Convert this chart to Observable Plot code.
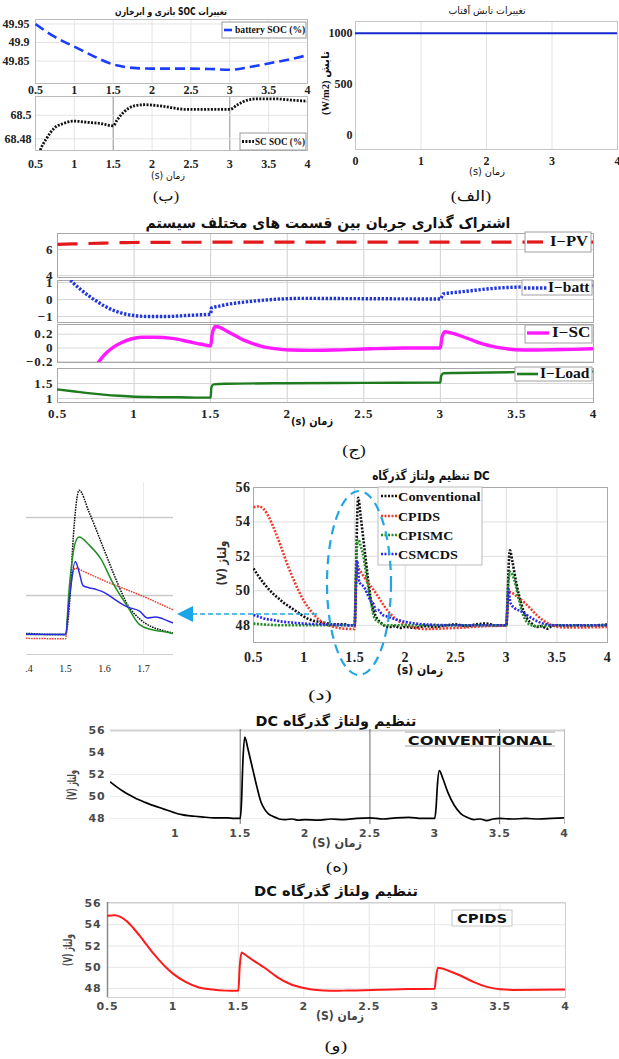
<!DOCTYPE html>
<html><head><meta charset="utf-8">
<script src="https://cdn.jsdelivr.net/npm/d3@7"></script>
<script src="https://cdn.jsdelivr.net/npm/@observablehq/plot@0.6"></script>
<style>
html,body{margin:0;padding:0;background:#fff;}
#root{position:relative;width:619px;height:1059px;overflow:hidden;background:#fff;}
</style></head>
<body><div id="root"></div>
<script>
// ---------------- DATA ----------------
// (الف) solar irradiance
const tIrr = [0, 4];
const irr = [1000, 1000];
const irrXTicks = [0, 1, 2, 3, 4];
const irrYTicks = [0, 500, 1000];

// (ب) SOC of battery and supercapacitor
const tSocBatt = [0.5, 0.75, 1.0, 1.25, 1.5, 1.75, 2.0, 2.25, 2.5, 2.75, 3.0, 3.25, 3.5, 3.75, 4.0];
const socBatt = [49.950, 49.915, 49.889, 49.863, 49.841, 49.832, 49.830, 49.830, 49.830, 49.829, 49.827, 49.834, 49.844, 49.854, 49.866];
const tSocSc = [0.52, 0.56, 0.65, 0.74, 0.86, 0.99, 1.17, 1.34, 1.5, 1.55, 1.64, 1.77, 1.9, 2.1, 2.45, 2.84, 3.0, 3.1, 3.23, 3.36, 3.57, 3.79, 4.0];
const socSc = [68.462, 68.470, 68.481, 68.489, 68.493, 68.495, 68.494, 68.493, 68.491, 68.496, 68.503, 68.508, 68.509, 68.508, 68.505, 68.505, 68.505, 68.509, 68.513, 68.514, 68.514, 68.513, 68.512];
const socXTicks = [0.5, 1, 1.5, 2, 2.5, 3, 3.5, 4];
const socBattTicks = [49.85, 49.9, 49.95];
const socScTicks = [68.48, 68.5];

// (ج) current sharing
const tPv = [0.5, 0.6, 0.7, 0.8, 0.9, 1.0, 1.5, 2.0, 2.5, 3.0, 3.5, 4.0];
const iPv = [6.40, 6.43, 6.46, 6.49, 6.52, 6.54, 6.56, 6.56, 6.56, 6.56, 6.56, 6.56];
const tBatt = [0.55, 0.6, 0.65, 0.71, 0.76, 0.81, 0.87, 0.92, 1.0, 1.1, 1.2, 1.3, 1.4, 1.5, 1.505, 1.55, 1.6, 1.75, 1.9, 2.0, 2.1, 2.3, 2.5, 2.75, 3.0, 3.02, 3.1, 3.2, 3.3, 3.4, 3.5, 3.6, 3.8, 4.0];
const iBatt = [1.5, 1.0, 0.6, 0.18, -0.12, -0.4, -0.65, -0.8, -0.94, -1.0, -1.0, -0.96, -0.91, -0.86, -0.5, -0.4, -0.3, -0.12, 0.0, 0.05, 0.07, 0.06, 0.05, 0.04, 0.03, 0.33, 0.42, 0.52, 0.62, 0.69, 0.73, 0.76, 0.8, 0.82];
const tSc = [0.72, 0.77, 0.82, 0.87, 0.92, 0.98, 1.05, 1.13, 1.25, 1.36, 1.45, 1.5, 1.51, 1.53, 1.56, 1.6, 1.66, 1.72, 1.78, 1.84, 1.92, 2.02, 2.15, 2.3, 2.55, 2.78, 3.0, 3.01, 3.03, 3.07, 3.14, 3.2, 3.26, 3.32, 3.37, 3.43, 3.49, 3.6, 3.73, 3.86, 4.0];
const iSc = [-0.4, -0.2, -0.07, 0.02, 0.08, 0.13, 0.155, 0.155, 0.14, 0.09, 0.05, 0.03, 0.2, 0.31, 0.3, 0.25, 0.18, 0.11, 0.06, 0.02, -0.01, -0.03, -0.035, -0.03, -0.01, 0.0, 0.0, 0.15, 0.235, 0.22, 0.17, 0.12, 0.07, 0.035, 0.01, -0.01, -0.025, -0.03, -0.025, -0.02, -0.01];
const tLoad = [0.5, 0.6, 0.7, 0.8, 0.9, 1.0, 1.1, 1.2, 1.3, 1.4, 1.5, 1.505, 1.52, 1.6, 2.0, 2.5, 3.0, 3.005, 3.02, 3.1, 3.5, 4.0];
const iLoad = [1.3, 1.24, 1.18, 1.13, 1.09, 1.06, 1.05, 1.04, 1.04, 1.03, 1.03, 1.38, 1.47, 1.49, 1.51, 1.52, 1.53, 1.75, 1.84, 1.85, 1.88, 1.9];
const curXTicks = [0.5, 1, 1.5, 2, 2.5, 3, 3.5, 4];
const pvTicks = [4, 6];
const battTicks = [-1, 0, 1];
const scTicks = [-0.2, 0, 0.2];
const loadTicks = [1, 1.5];
const curLabels = ["I\u2212PV", "I\u2212batt", "I\u2212SC", "I\u2212Load"];

// (د)(ه)(و) DC bus voltage
const tConv = [0.5,0.55,0.6,0.65,0.7,0.75,0.8,0.85,0.9,0.95,1.0,1.05,1.1,1.15,1.2,1.3,1.4,1.45,1.5,1.51,1.52,1.535,1.56,1.6,1.63,1.66,1.69,1.72,1.75,1.78,1.8,1.85,1.9,1.95,2.0,2.1,2.2,2.3,2.4,2.5,2.6,2.7,2.8,2.9,3.0,3.01,3.02,3.035,3.06,3.1,3.15,3.2,3.25,3.3,3.35,3.4,3.45,3.5,3.6,3.7,3.8,3.9,4.0];
const vConv = [51.3,50.85,50.45,50.1,49.8,49.55,49.3,49.1,48.9,48.7,48.5,48.35,48.25,48.2,48.15,48.05,48.05,48.0,48.0,49.5,53.0,55.4,54.3,52.3,50.8,49.5,48.8,48.4,48.2,48.05,47.95,47.9,47.95,47.85,47.9,47.85,47.95,47.9,48.0,48.05,47.95,48.05,48.1,48.0,48.0,49.0,51.0,52.35,51.7,50.4,49.2,48.45,48.1,47.9,47.95,47.8,47.95,48.0,47.95,48.0,47.95,48.0,48.05];
const tPid = [0.5,0.55,0.6,0.65,0.7,0.75,0.8,0.85,0.9,0.95,1.0,1.1,1.2,1.3,1.4,1.5,1.51,1.525,1.55,1.6,1.65,1.7,1.75,1.8,1.9,2.0,2.1,2.2,2.3,2.4,2.6,2.8,3.0,3.01,3.025,3.05,3.1,3.2,3.3,3.4,3.5,3.6,3.8,4.0];
const vPid = [54.85,54.9,54.75,54.3,53.65,52.9,52.1,51.3,50.6,49.95,49.4,48.6,48.1,47.9,47.8,47.78,50.0,51.4,51.2,50.75,50.35,49.95,49.5,49.05,48.4,48.05,47.85,47.78,47.8,47.82,47.88,47.95,47.98,49.0,49.95,49.9,49.7,49.2,48.6,48.15,47.92,47.87,47.88,47.9];
const tSmc = [0.5,0.6,0.8,1.0,1.2,1.5,1.51,1.525,1.535,1.56,1.59,1.62,1.66,1.69,1.72,1.75,1.775,1.8,2.0,2.5,3.0,3.01,3.025,3.04,3.08,3.12,3.16,3.2,3.25,3.3,3.5,4.0];
const vSmc = [48.1,48.05,48.0,48.0,48.0,48.0,50.5,52.7,53.0,52.6,51.9,50.7,49.4,48.5,48.25,48.15,48.05,48.0,48.0,48.0,48.0,49.5,50.8,51.1,50.6,49.6,48.7,48.2,48.0,47.95,48.0,48.0];
const tSmd = [0.5,0.55,0.6,0.7,0.8,0.9,1.0,1.2,1.5,1.51,1.525,1.535,1.545,1.56,1.58,1.6,1.63,1.66,1.69,1.71,1.73,1.75,1.775,1.8,1.9,2.0,2.1,2.2,2.5,3.0,3.01,3.02,3.04,3.08,3.15,3.2,3.3,3.4,3.5,4.0];
const vSmd = [48.6,48.5,48.4,48.3,48.2,48.15,48.1,48.05,48.0,49.8,51.75,51.2,50.5,50.4,50.3,50.15,49.75,49.4,49.2,48.85,48.9,48.8,48.6,48.55,48.35,48.2,48.1,48.05,48.0,48.0,49.0,50.1,49.3,49.0,48.8,48.6,48.25,48.05,48.0,48.0];
const dcXTicks = [0.5, 1, 1.5, 2, 2.5, 3, 3.5, 4];
const dcYTicks = [48, 50, 52, 54, 56];
const insetXTicks = [1.4, 1.5, 1.6, 1.7];
const convXTicks = [1, 1.5, 2, 2.5, 3, 3.5, 4];
const dcLabels = ["Conventional", "CPIDS", "CPISMC", "CSMCDS"];

// ---------------- HELPERS ----------------
const root = document.getElementById("root");
const SERIF = '"Liberation Serif", "DejaVu Sans", serif';
const SANS = '"DejaVu Sans", sans-serif';
const rows = (ts, vs) => ts.map((t, i) => ({t, v: vs[i]}));
const fmt = d => String(d).replace("-", "\u2212");

// frame = [x0,x1,y0,y1] in page px; m = [top,right,bottom,left] margins; clip = {l, b} optional page-px clip edges
function mk(frame, m, opts, clip) {
  const [x0, x1, y0, y1] = frame;
  const [mt, mr, mb, ml] = m;
  const width = ml + (x1 - x0) + mr, height = mt + (y1 - y0) + mb;
  const svg = Plot.plot({
    width, height, marginTop: mt, marginRight: mr, marginBottom: mb, marginLeft: ml,
    ...opts,
    style: {background: "transparent", overflow: "visible", ...(opts.style || {})}
  });
  const sl = x0 - ml, st = y0 - mt;
  const d = document.createElement("div");
  d.style.position = "absolute";
  if (clip) {
    const wl = clip.l != null ? clip.l : sl;
    const wb = clip.b != null ? clip.b : st + height;
    d.style.left = wl + "px"; d.style.top = st + "px";
    d.style.width = (sl + width - wl + 20) + "px"; d.style.height = (wb - st) + "px";
    d.style.overflow = "hidden";
    svg.style.position = "absolute"; svg.style.left = (sl - wl) + "px"; svg.style.top = "0px";
    svg.style.maxWidth = "none";
  } else {
    d.style.left = sl + "px"; d.style.top = st + "px"; d.style.width = width + "px";
  }
  d.appendChild(svg);
  root.appendChild(d);
  return svg;
}

function txt(s, cx, cy, o = {}) {
  const d = document.createElement("div");
  d.textContent = s;
  d.dir = o.dir || "ltr";
  d.style.cssText = `position:absolute;left:${cx}px;top:${cy}px;white-space:nowrap;line-height:1;` +
    `font-family:${o.family || SERIF};font-size:${o.size || 12}px;font-weight:${o.weight || "bold"};` +
    `color:${o.color || "#111"};letter-spacing:${o.ls || 0}px;`;
  root.appendChild(d);
  let sx = 1;
  if (o.w) { const w = d.offsetWidth; if (w > 0) sx = o.w / w; }
  const start = o.anchor === "start";
  d.style.transformOrigin = start ? "0 50%" : "50% 50%";
  d.style.transform = `translate(${start ? "0" : "-50%"},-50%)` + (o.rot ? ` rotate(${o.rot}deg)` : "") + ` scaleX(${sx})`;
  return d;
}

// dashed/dotted line helper (butt caps so the gaps stay visible)
const dashed = (data, stroke, w, dash, curve = "monotone-x") =>
  Plot.line(data, {x: "t", y: "v", stroke, strokeWidth: w, strokeDasharray: dash, strokeLinecap: dash ? "butt" : "round", strokeLinejoin: "round", curve, clip: true});

// ---------------- (الف) irradiance ----------------
mk([355, 617, 21, 149], [4, 2, 20, 40], {
  x: {domain: [0, 4], ticks: irrXTicks, tickFormat: fmt, tickSize: 0, tickPadding: 6.5, label: null},
  y: {domain: [-137, 1115], ticks: irrYTicks, tickFormat: fmt, tickSize: 0, tickPadding: 3, label: null},
  style: {fontFamily: SERIF, fontSize: "12px", fontWeight: "bold", color: "#222"},
  marks: [
    Plot.ruleX(irrXTicks, {stroke: "#e2e2e2"}),
    Plot.frame({stroke: "#c4c4c4"}),
    dashed(rows(tIrr, irr), "#1428d0", 2.2, null, "linear")
  ]
});

// ---------------- (ب) SOC ----------------
mk([35, 307, 19, 83], [2, 4, 16, 35], {
  x: {domain: [0.5, 4], ticks: socXTicks, tickFormat: fmt, tickSize: 0, tickPadding: 1.5, label: null},
  y: {domain: [49.79, 49.962], ticks: socBattTicks, tickFormat: fmt, tickSize: 0, tickPadding: 6, label: null},
  style: {fontFamily: SERIF, fontSize: "12px", fontWeight: "bold", color: "#222"},
  marks: [
    Plot.ruleX(socXTicks, {stroke: "#e4e4e4"}),
    Plot.ruleY(socBattTicks, {stroke: "#e4e4e4"}),
    Plot.frame({stroke: "#bbb"}),
    dashed(rows(tSocBatt, socBatt), "#1a3cff", 2.6, "10,5")
  ]
});
mk([35, 307, 96, 150], [2, 4, 20, 35], {
  x: {domain: [0.5, 4], ticks: socXTicks, tickFormat: fmt, tickSize: 0, tickPadding: 8.5, label: null},
  y: {domain: [68.470, 68.516], ticks: socScTicks, tickFormat: fmt, tickSize: 0, tickPadding: 4, label: null},
  style: {fontFamily: SERIF, fontSize: "12px", fontWeight: "bold", color: "#222"},
  marks: [
    Plot.ruleX(socXTicks, {stroke: "#e4e4e4"}),
    Plot.ruleX([1.5, 3], {stroke: "#9a9a9a"}),
    Plot.ruleY(socScTicks, {stroke: "#e4e4e4"}),
    Plot.frame({stroke: "#bbb"}),
    dashed(rows(tSocSc, socSc), "#111", 2.8, "2,1.4")
  ]
});

// ---------------- (ج) current sharing ----------------
const curPanels = [
  {y: [233, 277], domain: [3.85, 7.23], ticks: pvTicks, data: rows(tPv, iPv), stroke: "#e31a1c", w: 3.2, dash: "20,11", clipB: 279},
  {y: [280, 322], domain: [-1.35, 1.12], ticks: battTicks, data: rows(tBatt, iBatt), stroke: "#2338d8", w: 3.4, dash: "2.4,1.6"},
  {y: [324, 362], domain: [-0.21, 0.34], ticks: scTicks, data: rows(tSc, iSc), stroke: "#ff1aff", w: 3.4, dash: null},
  {y: [368, 402], domain: [0.867, 2.0], ticks: loadTicks, data: rows(tLoad, iLoad), stroke: "#1e7b1e", w: 2.4, dash: null}
];
curPanels.forEach((p, i) => {
  const last = i === curPanels.length - 1;
  mk([57, 593, p.y[0], p.y[1]], [2, 4, last ? 26 : 6, 45], {
    x: last
      ? {domain: [0.5, 4], ticks: curXTicks, tickFormat: fmt, tickSize: 0, tickPadding: 6.5, label: null}
      : {domain: [0.5, 4], axis: null},
    y: {domain: p.domain, ticks: p.ticks, tickFormat: fmt, tickSize: 0, tickPadding: 4, label: null},
    style: {fontFamily: SERIF, fontSize: "13px", fontWeight: "bold", color: "#222", letterSpacing: "1px"},
    marks: [
      Plot.ruleX(curXTicks, {stroke: "#cfcfcf"}),
      Plot.ruleY(p.ticks, {stroke: "#d6d6d6"}),
      Plot.frame({stroke: "#a8a8a8"}),
      dashed(p.data, p.stroke, p.w, p.dash)
    ]
  }, p.clipB ? {b: p.clipB} : null);
});

// ---------------- (د) DC bus voltage, comparison ----------------
const dcSeries = [
  {data: rows(tConv, vConv), stroke: "#111111"},
  {data: rows(tPid, vPid), stroke: "#f03a2e"},
  {data: rows(tSmc, vSmc), stroke: "#1f8f26"},
  {data: rows(tSmd, vSmd), stroke: "#2a2ae8"}
];
mk([253, 607, 487, 642], [4, 4, 24, 40], {
  x: {domain: [0.5, 4], ticks: dcXTicks, tickFormat: fmt, tickSize: 0, tickPadding: 9.5, label: null},
  y: {domain: [47, 56], ticks: dcYTicks, tickFormat: fmt, tickSize: 0, tickPadding: 3, label: null},
  style: {fontFamily: SERIF, fontSize: "14px", fontWeight: "bold", color: "#222", letterSpacing: "0.5px"},
  marks: [
    Plot.ruleX(dcXTicks, {stroke: "#dedede"}),
    Plot.ruleY(dcYTicks, {stroke: "#dedede"}),
    Plot.frame({stroke: "#aaa"}),
    ...dcSeries.map(s => dashed(s.data, s.stroke, 2.6, "2,1.5"))
  ]
});

// inset zoom
mk([26, 173, 482, 654], [2, 2, 20, 12], {
  x: {domain: [1.4, 1.777], ticks: insetXTicks, tickFormat: fmt, tickSize: 0, tickPadding: 10.5, label: null},
  y: {domain: [46.97, 55.8], axis: null},
  style: {fontFamily: SERIF, fontSize: "10px", fontWeight: "normal", color: "#222"},
  marks: [
    Plot.ruleX([1.7], {stroke: "#ececec"}),
    Plot.ruleY([50, 54], {stroke: "#c9c9c9", strokeWidth: 1.6}),
    Plot.ruleY([46.97], {stroke: "#cfcfcf", strokeWidth: 1.2}),
    ...dcSeries.map((s, i) => dashed(s.data, s.stroke, 1.5, i < 2 ? "1.6,1" : null))
  ]
}, {l: 25});

// ---------------- (ه) Conventional ----------------
mk([110, 564, 729, 824], [2, 4, 20, 40], {
  x: {domain: [0.5, 4], ticks: convXTicks, tickFormat: fmt, tickSize: 0, tickPadding: 5, label: null},
  y: {domain: [47.45, 56.09], ticks: dcYTicks, tickFormat: fmt, tickSize: 0, tickPadding: 5, label: null},
  style: {fontFamily: SANS, fontSize: "11px", fontWeight: "bold", color: "#4a4a4a", letterSpacing: "0.8px"},
  marks: [
    Plot.ruleY([48, 50, 52], {stroke: "#ebebeb"}),
    Plot.ruleY([56], {stroke: "#d2d2d2", strokeWidth: 2}),
    Plot.ruleX([4], {stroke: "#bdbdbd"}),
    Plot.ruleX([1.5, 2.5, 3.5], {stroke: "#444", strokeWidth: 0.8}),
    dashed(rows(tConv, vConv), "#000", 1.7, null)
  ]
});

// ---------------- (و) CPIDS ----------------
mk([107, 565, 902, 997], [2, 4, 20, 40], {
  x: {domain: [0.5, 4], ticks: dcXTicks, tickFormat: fmt, tickSize: 0, tickPadding: 5, label: null},
  y: {domain: [47.153, 56.094], ticks: dcYTicks, tickFormat: fmt, tickSize: 0, tickPadding: 6, label: null},
  style: {fontFamily: SANS, fontSize: "11px", fontWeight: "bold", color: "#4a4a4a", letterSpacing: "0.8px"},
  marks: [
    Plot.ruleX(dcXTicks, {stroke: "#e6e6e6"}),
    Plot.ruleY(dcYTicks, {stroke: "#e6e6e6"}),
    Plot.frame({stroke: "#cfcfcf"}),
    Plot.ruleX([0.5], {stroke: "#8a8a8a", strokeWidth: 1.5}),
    dashed(rows(tPid, vPid), "#ff1a1a", 2, null)
  ]
});

// ---------------- OVERLAY SHAPES ----------------
const ov = d3.select(root).append("svg")
  .attr("width", 619).attr("height", 1059)
  .style("position", "absolute").style("left", "0").style("top", "0");
function box(x0, y0, x1, y1, stroke = "#999", fill = "#fff") {
  ov.append("rect").attr("x", x0).attr("y", y0).attr("width", x1 - x0).attr("height", y1 - y0)
    .attr("fill", fill).attr("stroke", stroke).attr("stroke-width", 1);
}
function seg(x0, x1, y, stroke, w, dash) {
  ov.append("line").attr("x1", x0).attr("x2", x1).attr("y1", y).attr("y2", y)
    .attr("stroke", stroke).attr("stroke-width", w).attr("stroke-dasharray", dash || null);
}
// (ب) legends
box(222, 22, 306, 38, "#999");
seg(224, 234, 30, "#1a3cff", 2.6, "8,4");
box(240, 133, 306, 150, "#999");
seg(242, 254, 141.5, "#111", 2.8, "2,1.4");
// (ج) legends
box(525, 232, 591, 252, "#a0a0a0"); seg(527, 543, 242, "#e31a1c", 3.2, null);
box(522, 280, 592, 295, "#a0a0a0"); seg(524, 547, 288, "#2338d8", 3.4, "2.4,1.6");
box(525, 325, 592, 343, "#a0a0a0"); seg(527, 549, 333, "#ff1aff", 3.4, null);
box(515, 367, 592, 381, "#a0a0a0"); seg(517, 538, 374, "#1e7b1e", 2.6, null);
// (د) legend
box(378, 487, 482, 565, "#bbb");
[496, 516, 535, 554].forEach((y, i) => seg(381, 397, y, dcSeries[i].stroke, 2.6, "2,1.5"));
// ellipse + arrow
ov.append("ellipse").attr("cx", 359).attr("cy", 583).attr("rx", 32).attr("ry", 92)
  .attr("fill", "none").attr("stroke", "#22a6e3").attr("stroke-width", 2.2).attr("stroke-dasharray", "9,6");
seg(192, 320, 614, "#22a6e3", 1.5, "5,3");
ov.append("polygon").attr("points", "177,614 193,606 193,622").attr("fill", "#19a5e6");
// (ه) CONVENTIONAL label lines
seg(405, 555, 732, "#cfcfcf", 2, null);
seg(405, 555, 746, "#cfcfcf", 2, null);
// (و) CPIDS box
box(452, 910, 512, 926, "#c8c8c8");

// ---------------- TEXT ----------------
// titles
txt("تغییرات SOC باتری و ابرخازن", 171, 12, {family: SANS, size: 10, dir: "rtl", w: 112});
txt("تغییرات تابش آفتاب", 487, 11, {family: SANS, size: 10, weight: "normal", dir: "rtl", w: 77});
txt("اشتراک گذاری جریان بین قسمت های مختلف سیستم", 328, 223, {family: SANS, size: 15, dir: "rtl", w: 365});
txt("تنظیم ولتاژ گذرگاه DC", 431, 475, {family: SANS, size: 13, dir: "ltr", w: 118});
txt("تنظیم ولتاژ گذرگاه DC", 336, 721, {family: SANS, size: 14, dir: "rtl", w: 161});
txt("تنظیم ولتاژ گذرگاه DC", 336, 891, {family: SANS, size: 14, dir: "rtl", w: 164});
// axis labels
txt("(s) زمان", 487, 172, {family: SANS, size: 10, weight: "normal", w: 36});
txt("(s) زمان", 168, 176, {family: SANS, size: 10, weight: "normal", w: 34});
txt("(s) زمان", 312, 421, {family: SANS, size: 11, w: 42});
txt("(s) زمان", 420, 670, {family: SANS, size: 12, w: 46});
txt("(S) زمان", 337, 843, {family: SANS, size: 12, color: "#444", w: 50});
txt("(S) زمان", 340, 1016, {family: SANS, size: 12, color: "#444", w: 48});
txt("(W/m2) تابش", 325, 83, {family: SERIF, size: 11, rot: -90, w: 64});
txt("(V) ولتاژ", 222, 563, {family: SANS, size: 12, rot: -90, color: "#333", w: 45});
txt("(V) ولتاژ", 72, 785, {family: SANS, size: 12, rot: -90, color: "#444", w: 30});
txt("(V) ولتاژ", 68, 950, {family: SANS, size: 12, rot: -90, color: "#444", w: 32});
// legends text
txt("battery SOC (%)", 235, 30, {size: 10, anchor: "start", w: 70});
txt("SC SOC (%)", 255, 142, {size: 10, anchor: "start", w: 50});
const curLegY = [242, 288, 333, 374], curLegX = [550, 548, 552, 540], curLegW = [38, 42, 38, 50];
curLabels.forEach((s, i) => txt(s, curLegX[i], curLegY[i], {size: 14, anchor: "start", w: curLegW[i]}));
const dcLegY = [496, 516, 535, 554], dcLegW = [82, 42, 55, 60];
dcLabels.forEach((s, i) => txt(s, 398, dcLegY[i], {size: 13, anchor: "start", w: dcLegW[i]}));
txt("CONVENTIONAL", 480, 740, {family: SANS, size: 13, color: "#111", w: 144});
txt("CPIDS", 482, 918, {family: SANS, size: 13, color: "#111", w: 50});
// captions
txt("(الف)", 471, 196, {size: 15, weight: "normal", w: 40});
txt("(ب)", 166, 196, {size: 15, weight: "normal", w: 26});
txt("(ج)", 354, 450, {size: 15, weight: "normal", w: 24});
txt("(د)", 320, 695, {size: 15, weight: "normal", w: 24});
txt("(ه)", 337, 867, {size: 15, weight: "normal", w: 22});
txt("(و)", 336, 1046, {size: 15, weight: "normal", w: 22});
</script>
</body></html>
